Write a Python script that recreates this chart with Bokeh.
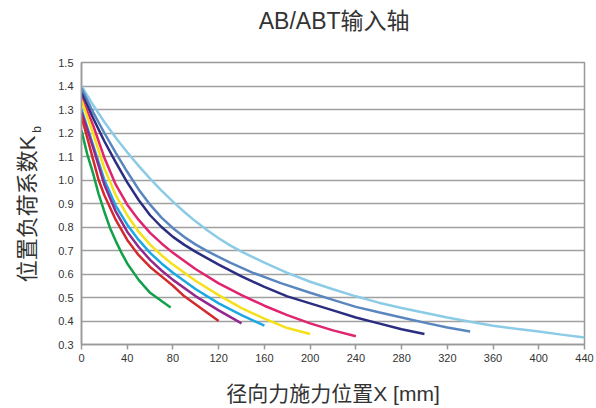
from bokeh.plotting import figure
from bokeh.models import FixedTicker, NumeralTickFormatter, Range1d, Label
from bokeh.embed import file_html
from bokeh.resources import INLINE
import math

title_text = "AB/ABT输入轴"
x_label = "径向力施力位置X [mm]"
y_label = "位置负荷系数K"
y_label_sub = "b"

x_ticks = [0, 40, 80, 120, 160, 200, 240, 280, 320, 360, 400, 440]
y_ticks = [0.3, 0.4, 0.5, 0.6, 0.7, 0.8, 0.9, 1.0, 1.1, 1.2, 1.3, 1.4, 1.5]

green_x = [0, 5, 10, 15, 20, 25, 30, 35, 40, 50, 60, 70, 78]
green_y = [1.21, 1.11, 1.03, 0.94, 0.865, 0.795, 0.74, 0.69, 0.645, 0.575, 0.52, 0.485, 0.457]

red_x = [0, 5, 10, 15, 20, 30, 40, 50, 60, 70, 80, 90, 100, 110, 120]
red_y = [1.27, 1.18, 1.09, 1.00, 0.935, 0.83, 0.745, 0.68, 0.63, 0.59, 0.55, 0.505, 0.47, 0.435, 0.40]

purple_x = [0, 10, 20, 30, 40, 50, 60, 70, 80, 100, 120, 140]
purple_y = [1.29, 1.14, 0.98, 0.865, 0.78, 0.715, 0.66, 0.615, 0.575, 0.505, 0.445, 0.39]

cyan_x = [0, 10, 20, 30, 40, 50, 60, 70, 80, 100, 120, 140, 160]
cyan_y = [1.30, 1.15, 1.00, 0.89, 0.81, 0.745, 0.69, 0.645, 0.605, 0.535, 0.475, 0.425, 0.38]

yellow_x = [0, 10, 20, 30, 40, 50, 60, 70, 80, 100, 120, 140, 160, 180, 200]
yellow_y = [1.34, 1.20, 1.05, 0.935, 0.85, 0.78, 0.725, 0.68, 0.64, 0.57, 0.51, 0.455, 0.41, 0.37, 0.345]

magenta_x = [0, 10, 20, 30, 40, 50, 60, 70, 80, 100, 120, 140, 160, 180, 200, 220, 240]
magenta_y = [1.35, 1.235, 1.095, 0.98, 0.895, 0.83, 0.775, 0.73, 0.69, 0.62, 0.56, 0.51, 0.465, 0.425, 0.39, 0.36, 0.335]

navy_x = [0, 10, 20, 30, 40, 50, 60, 70, 80, 90, 100, 120, 140, 160, 180, 200, 220, 240, 260, 280, 300]
navy_y = [1.37, 1.265, 1.165, 1.075, 0.99, 0.915, 0.85, 0.80, 0.758, 0.724, 0.694, 0.64, 0.59, 0.545, 0.505, 0.475, 0.445, 0.415, 0.39, 0.365, 0.345]

steel_x = [0, 10, 20, 30, 40, 50, 60, 70, 80, 90, 100, 110, 130, 150, 175, 200, 220, 240, 260, 280, 300, 320, 340]
steel_y = [1.39, 1.29, 1.20, 1.115, 1.035, 0.96, 0.895, 0.84, 0.795, 0.757, 0.725, 0.697, 0.648, 0.605, 0.56, 0.52, 0.49, 0.46, 0.437, 0.415, 0.393, 0.372, 0.355]

light_x = [0, 10, 20, 30, 40, 50, 60, 70, 80, 90, 100, 110, 120, 130, 140, 160, 180, 200, 220, 240, 260, 280, 300, 320, 340, 360, 380, 400, 420, 440]
light_y = [1.40, 1.32, 1.247, 1.18, 1.118, 1.06, 1.006, 0.955, 0.908, 0.864, 0.823, 0.786, 0.752, 0.722, 0.695, 0.648, 0.605, 0.567, 0.535, 0.505, 0.478, 0.455, 0.435, 0.415, 0.397, 0.38, 0.367, 0.355, 0.342, 0.33]

series = [
    (light_x, light_y, "#8ccbe6"),
    (steel_x, steel_y, "#5a86bf"),
    (navy_x, navy_y, "#2b2d80"),
    (magenta_x, magenta_y, "#e0256e"),
    (yellow_x, yellow_y, "#f5e11a"),
    (cyan_x, cyan_y, "#1aa9e0"),
    (purple_x, purple_y, "#93298d"),
    (red_x, red_y, "#d42a2e"),
    (green_x, green_y, "#12a04a"),
]

FONT = "Liberation Sans, Noto Sans CJK SC"

p = figure(width=596, height=408, output_backend="svg", toolbar_location=None,
           title=None, x_range=Range1d(0, 440), y_range=Range1d(0.3, 1.5),
           min_border_left=81, min_border_right=12, min_border_top=62, min_border_bottom=64)

p.outline_line_color = "#999999"
p.outline_line_width = 1.5
p.background_fill_color = "white"
p.border_fill_color = "white"

xax = p.xaxis[0]
yax = p.yaxis[0]

p.xgrid.visible = False
p.ygrid.ticker = FixedTicker(ticks=y_ticks)
p.ygrid.grid_line_color = "#a0a0a0"
p.ygrid.grid_line_width = 1.5

xax.ticker = FixedTicker(ticks=x_ticks)
yax.ticker = FixedTicker(ticks=y_ticks)
yax.formatter = NumeralTickFormatter(format="0.0")
for ax in (xax, yax):
    ax.axis_line_color = "#999999"
    ax.axis_line_width = 1.5
    ax.major_tick_line_color = "#999999"
    ax.major_tick_line_width = 1.5
    ax.minor_tick_line_color = None
    ax.major_label_text_font_size = "11px"
    ax.major_label_text_color = "#333333"
    ax.major_label_text_font = FONT
xax.major_tick_in = 0
xax.major_tick_out = 5
xax.major_label_standoff = 4
yax.major_tick_in = 0
yax.major_tick_out = 0
yax.major_label_standoff = 8

xax.axis_label = x_label
xax.axis_label_text_font_size = "21px"
xax.axis_label_text_font_style = "normal"
xax.axis_label_text_color = "#333333"
xax.axis_label_text_font = FONT
xax.axis_label_standoff = 17

for xs, ys, c in series:
    p.line(xs, ys, line_color=c, line_width=2.5)

# texts outside the frame, placed in side panels so that they are not clipped
p.add_layout(Label(x=221, y=1.677, text=title_text, text_align="center", text_baseline="middle",
                   text_font_size="23px", text_color="#333333", text_font=FONT), "above")
p.add_layout(Label(x=-47.0, y=0.877, text=y_label, text_align="center", text_baseline="middle",
                   angle=math.pi / 2, text_font_size="22px", text_color="#333333",
                   text_font=FONT), "left")
p.add_layout(Label(x=-39.0, y=1.215, text=y_label_sub, text_align="center",
                   text_baseline="middle", angle=math.pi / 2, text_font_size="12px",
                   text_color="#333333", text_font=FONT), "left")

open("out.html", "w").write(file_html(p, INLINE))
